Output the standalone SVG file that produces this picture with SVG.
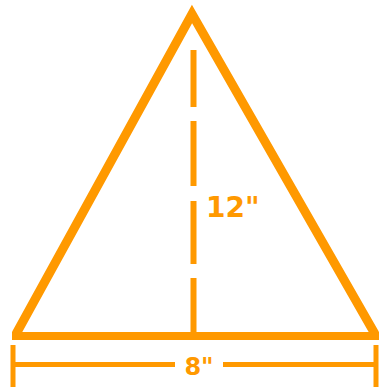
<svg xmlns="http://www.w3.org/2000/svg" width="380" height="389" viewBox="0 0 380 389">
<style>
.s{fill:none;stroke:#FF9900;stroke-linecap:butt}
.t{fill:#FF9900;font-family:"DejaVu Sans","Liberation Sans",sans-serif;font-weight:bold}
</style>
<rect width="380" height="389" fill="#FFFFFF"/>
<g id="triangle">
<path class="s" d="M16 334 L192 14 L375 334" stroke-width="9" stroke-linejoin="miter"/>
<path class="s" d="M12 336 H379" stroke-width="8"/>
</g>
<g id="connectors">
<path id="height-line" class="s" d="M193.5 50 V107 M193.5 121 V186 M193.5 201 V264 M193.5 278 V333" stroke-width="6"/>
<path id="width-dim" class="s" d="M13 345 V387 M376 345 V387 M13 364.5 H175 M223 364.5 H376" stroke-width="5"/>
</g>
<g id="height-label"><text class="t" x="206" y="217" font-size="28">12"</text></g>
<g id="width-label"><text class="t" x="199" y="375" font-size="24" text-anchor="middle">8"</text></g>
</svg>
